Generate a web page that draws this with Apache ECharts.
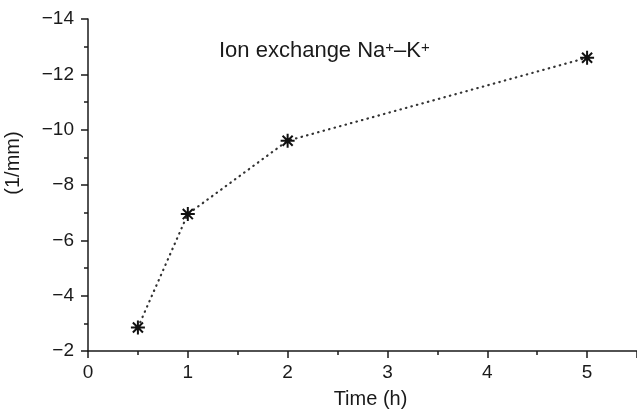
<!DOCTYPE html>
<html>
<head>
<meta charset="utf-8">
<script src="https://cdn.jsdelivr.net/npm/echarts@6/dist/echarts.min.js"></script>
<style>
  html, body { margin: 0; padding: 0; background: #fff; }
  #chart { width: 637px; height: 412px; }
</style>
</head>
<body>
<div id="chart"></div>
<script>
// Time (h) and the measured (1/mm) value at each sampling time
const timeHours = [0.5, 1, 2, 5];
const values = [-2.85, -6.95, -9.6, -12.6];

const xTicks = [0, 1, 2, 3, 4, 5];
const yTicks = [-14, -12, -10, -8, -6, -4, -2];

const INK = '#1a1a1a';
const FONT = '"Liberation Sans", Arial, sans-serif';

// eight-armed asterisk marker
const asterisk = 'path://M0,-1L0,1M-1,0L1,0M-0.72,-0.72L0.72,0.72M-0.72,0.72L0.72,-0.72';

const chart = echarts.init(document.getElementById('chart'));
chart.setOption({
  backgroundColor: '#fff',
  animation: false,
  title: {
    text: 'Ion exchange Na{sup|+}–K{sup|+}',
    left: 214,
    top: 35,
    textStyle: {
      color: INK, fontFamily: FONT, fontSize: 22, fontWeight: 'normal',
      rich: {
        sup: { fontSize: 15, verticalAlign: 'top', color: INK, fontFamily: FONT, padding: [0, 0, 6, 0] }
      }
    }
  },
  grid: { left: 88, right: 0, top: 19, bottom: 61, outerBoundsMode: 'none', containLabel: false },
  xAxis: {
    type: 'value',
    min: xTicks[0],
    max: 5.5,
    interval: 1,
    splitNumber: 2,
    name: 'Time (h)',
    nameLocation: 'middle',
    nameGap: 38,
    nameTextStyle: { color: INK, fontFamily: FONT, fontSize: 20, padding: [0, 0, 0, 16] },
    axisLine: { onZero: false, lineStyle: { color: INK, width: 1.5 } },
    axisTick: { show: true, inside: false, length: 7, lineStyle: { color: INK, width: 1.5 } },
    minorTick: { show: true, splitNumber: 2, length: 4, lineStyle: { color: INK, width: 1.5 } },
    splitLine: { show: false },
    axisLabel: {
      color: INK, fontFamily: FONT, fontSize: 19, margin: 12,
      showMaxLabel: false,
      formatter: v => (xTicks.indexOf(v) >= 0 ? String(v) : '')
    }
  },
  yAxis: {
    type: 'value',
    inverse: true,
    min: yTicks[0],
    max: yTicks[yTicks.length - 1],
    interval: 2,
    name: '(1/mm)',
    nameLocation: 'middle',
    nameRotate: 90,
    nameGap: 65,
    nameTextStyle: { color: INK, fontFamily: FONT, fontSize: 20, padding: [0, 0, 0, 44] },
    axisLine: { show: true, onZero: false, lineStyle: { color: INK, width: 1.5 } },
    axisTick: { show: true, inside: false, length: 7, lineStyle: { color: INK, width: 1.5 } },
    minorTick: { show: true, splitNumber: 2, length: 4, lineStyle: { color: INK, width: 1.5 } },
    splitLine: { show: false },
    axisLabel: {
      color: INK, fontFamily: FONT, fontSize: 19, margin: 14,
      formatter: v => String(v).replace('-', '\u2212')
    }
  },
  series: [{
    type: 'line',
    data: timeHours.map((t, i) => [t, values[i]]),
    symbol: asterisk,
    symbolSize: 14,
    itemStyle: { color: '#111', borderColor: '#111', borderWidth: 2 },
    lineStyle: { color: '#333', width: 2.2, type: [0.5, 5.2], cap: 'round' },
    emphasis: { disabled: true }
  }]
});
</script>
</body>
</html>
